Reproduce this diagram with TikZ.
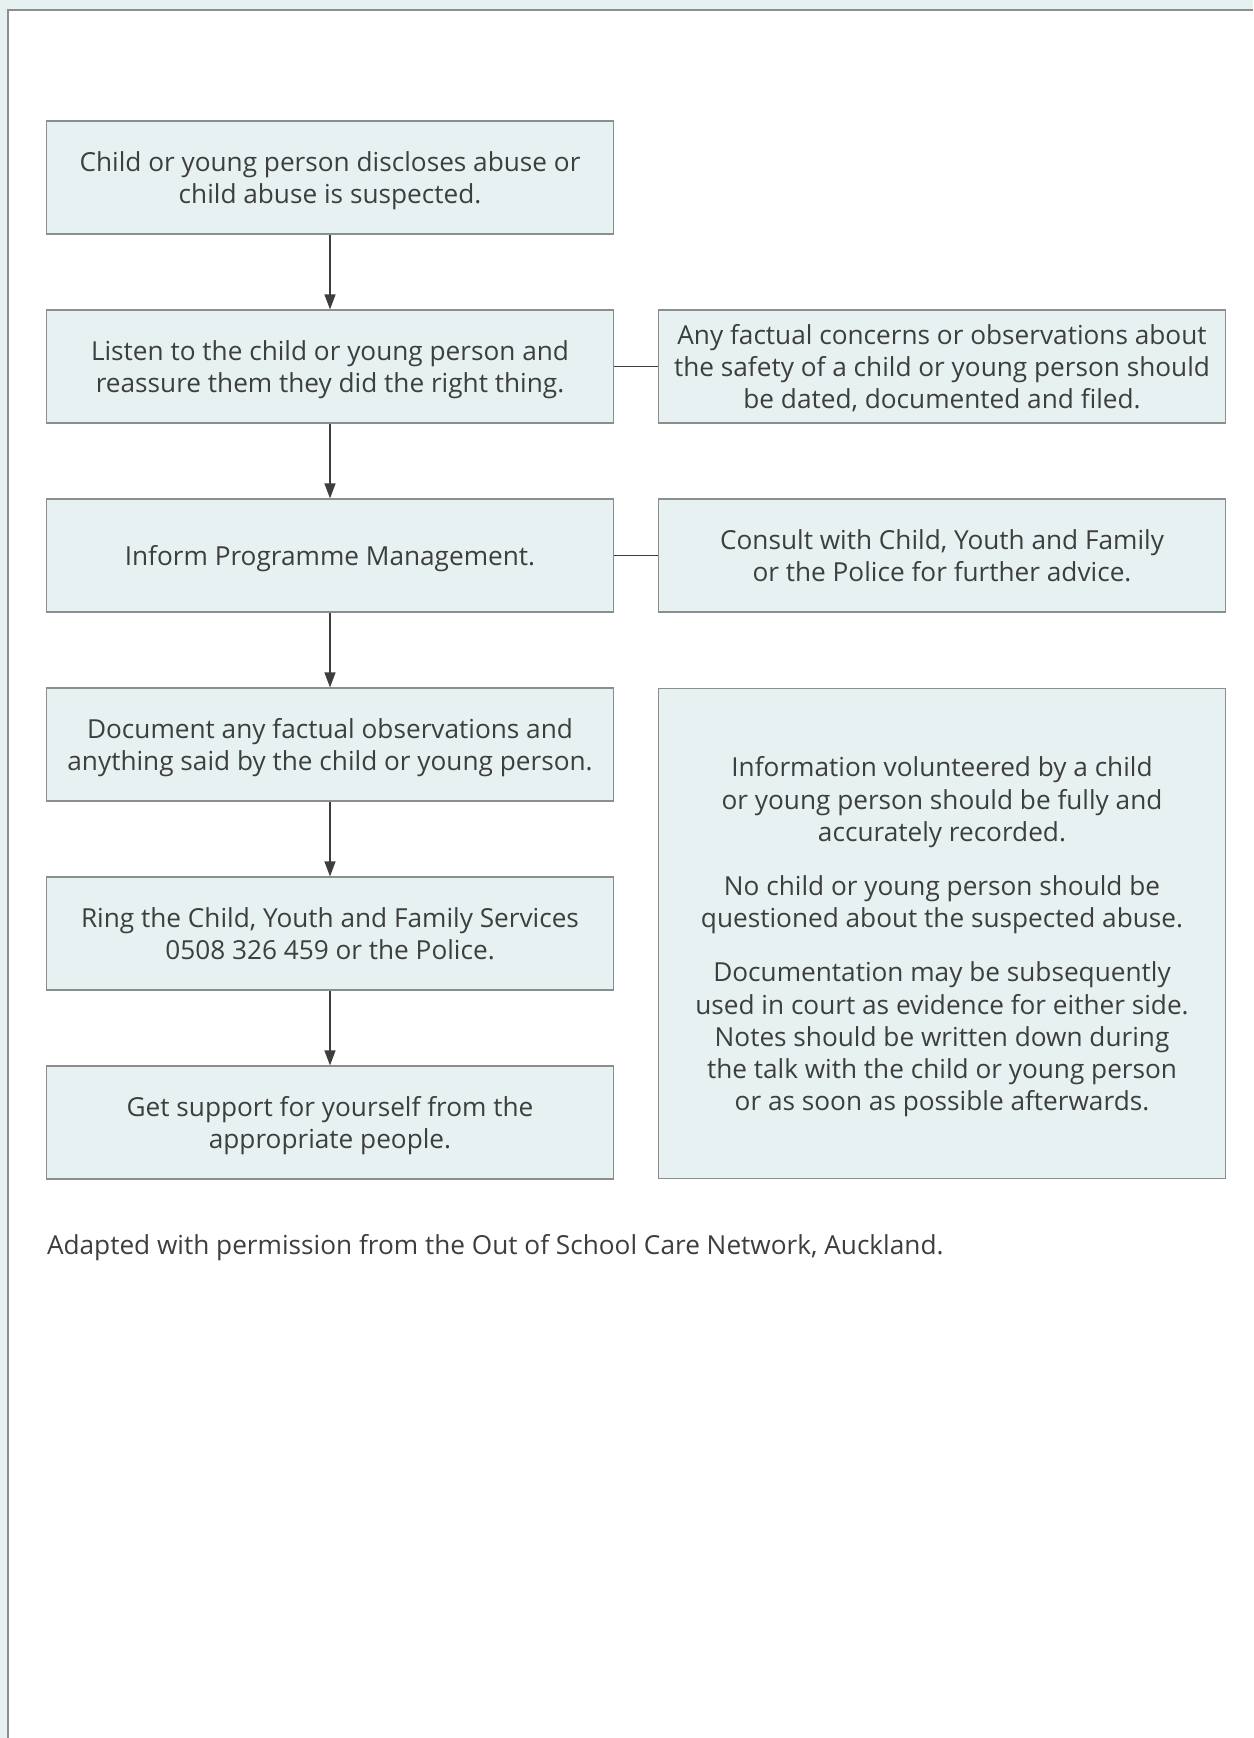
\documentclass[tikz,border=0pt]{standalone}
\usepackage{fontspec}
\setmainfont{Open Sans}
\usepackage{xcolor}
\definecolor{panel}{HTML}{E8F1F2}
\definecolor{edge}{HTML}{8A8F8E}
\definecolor{ink}{HTML}{3C3F3E}
\usepackage{tikz}
\usetikzlibrary{arrows.meta, positioning}

\tikzset{
  flowbox/.style={draw=edge, line width=0.6pt, fill=panel, text=ink,
    minimum width=283.3pt, minimum height=56.5pt, inner sep=0pt,
    text depth=-1.2pt, align=center, font=\fontsize{13.1}{16.1}\selectfont},
  flowarrow/.style={draw=ink, line width=0.65pt,
    -{Triangle[length=7.5pt, width=5.5pt]}},
  sideline/.style={draw=ink, line width=0.65pt}
}

\begin{document}
\begin{tikzpicture}[x=0.5pt, y=-0.5pt]
  \useasboundingbox (0,0) rectangle (1253,1738);

  % Page frame
  \fill[panel] (0,0) rectangle (1253,1738);
  \fill[white] (8,10.5) rectangle (1253,1738);
  \draw[edge, line width=1pt] (1253,10.5) -- (8,10.5) -- (8,1738);

  % Main steps
  \node[flowbox] (disclose) at (330, 177.5) {Child or young person discloses abuse or\\child abuse is suspected.};
  \node[flowbox] (listen) at (330, 366.5) {Listen to the child or young person and\\reassure them they did the right thing.};
  \node[flowbox] (inform) at (330, 555.5) {Inform Programme Management.};
  \node[flowbox] (document) at (330, 744.5) {Document any factual observations and\\anything said by the child or young person.};
  \node[flowbox] (ring) at (330, 933.5) {Ring the Child, Youth and Family Services\\0508 326 459 or the Police.};
  \node[flowbox] (support) at (330, 1122.5) {Get support for yourself from the\\appropriate people.};

  % Side notes
  \node[flowbox] (concerns) at (942, 366.5) {Any factual concerns or observations about\\the safety of a child or young person should\\be dated, documented and filed.};
  \node[flowbox] (consult) at (942, 555.5) {Consult with Child, Youth and Family\\or the Police for further advice.};
  \node[flowbox, minimum height=245pt] (notes) at (942, 933.7) {Information volunteered by a child\\or young person should be fully and\\accurately recorded.\\[11pt]
    No child or young person should be\\questioned about the suspected abuse.\\[11pt]
    Documentation may be subsequently\\used in court as evidence for either side.\\Notes should be written down during\\the talk with the child or young person\\or as soon as possible afterwards.};

  % Arrows down the left column
  \draw[flowarrow] (disclose.south) -- (listen.north);
  \draw[flowarrow] (listen.south) -- (inform.north);
  \draw[flowarrow] (inform.south) -- (document.north);
  \draw[flowarrow] (document.south) -- (ring.north);
  \draw[flowarrow] (ring.south) -- (support.north);

  % Links to side notes
  \draw[sideline] (listen.east) -- (concerns.west);
  \draw[sideline] (inform.east) -- (consult.west);

  % Credit line
  \node[anchor=west, inner sep=0pt, text=ink, font=\fontsize{13.1}{16.1}\selectfont] (credit) at (46.6, 1248) {Adapted with permission from the Out of School Care Network, Auckland.};
\end{tikzpicture}
\end{document}
